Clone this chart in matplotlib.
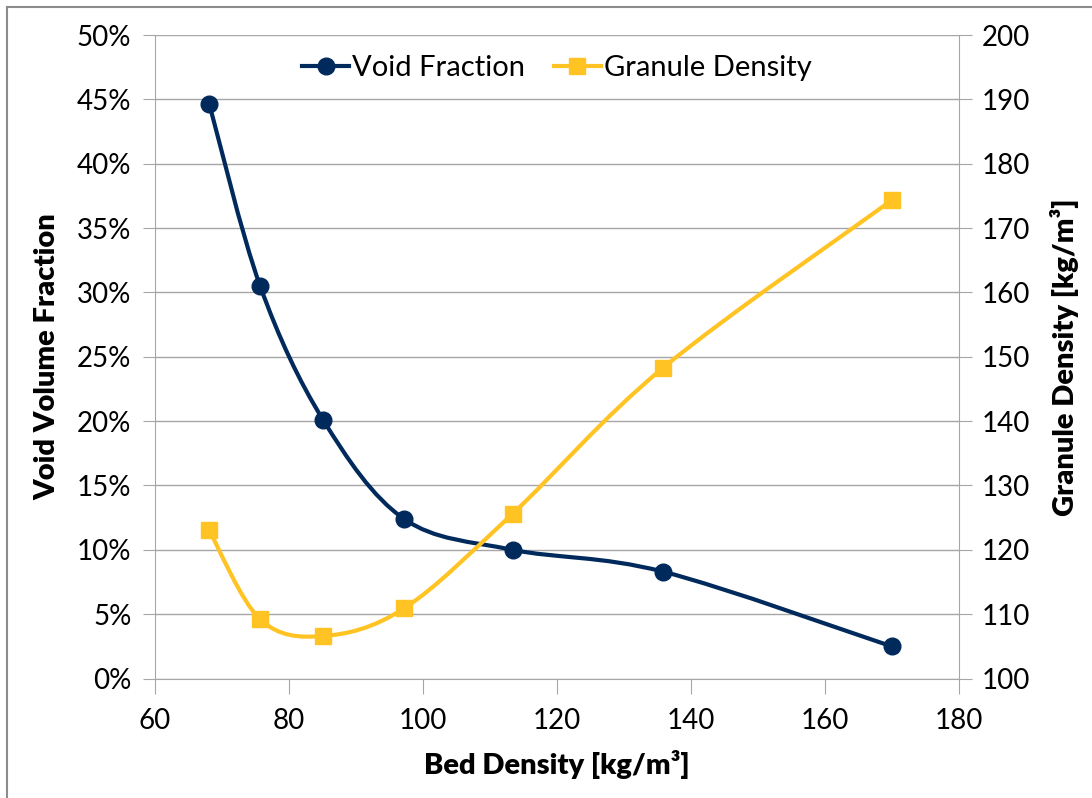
import numpy as np
import matplotlib
matplotlib.use('Agg')
import matplotlib.pyplot as plt
from matplotlib.path import Path
from matplotlib.patches import PathPatch
from matplotlib.lines import Line2D
from matplotlib.ticker import FuncFormatter

# data
bed_density = [68.1, 75.7, 85.1, 97.2, 113.4, 135.9, 170.0]
void_fraction = [44.65, 30.5, 20.1, 12.4, 10.0, 8.3, 2.5]        # percent
granule_density = [123.0, 109.2, 106.6, 110.9, 125.6, 148.3, 174.3]

navy = '#012a5c'
gold = '#ffc423'

plt.rcParams['font.family'] = ['Lato', 'DejaVu Sans']


def smooth_path(xs, ys):
    # excel-style smoothed line: catmull-rom segments as cubic beziers
    pts = np.column_stack([xs, ys])
    n = len(pts)
    verts = [pts[0]]
    codes = [Path.MOVETO]
    for i in range(n - 1):
        p0 = pts[max(i - 1, 0)]
        p1 = pts[i]
        p2 = pts[i + 1]
        p3 = pts[min(i + 2, n - 1)]
        c1 = p1 + (p2 - p0) / 6.0
        c2 = p2 - (p3 - p1) / 6.0
        verts += [c1, c2, p2]
        codes += [Path.CURVE4] * 3
    return Path(verts, codes)


fig = plt.figure(figsize=(10.92, 7.98), dpi=100)
ax = fig.add_axes([155 / 1092, 1 - 678.5 / 798, (958.5 - 155) / 1092, (678.5 - 35) / 798])
ax2 = ax.twinx()

grid_c = '#a6a6a6'
for a in (ax, ax2):
    for s in a.spines.values():
        s.set_visible(False)
ax.spines['left'].set_visible(True)
ax.spines['left'].set_color(grid_c)
ax.spines['bottom'].set_visible(True)
ax.spines['bottom'].set_color(grid_c)
ax2.spines['right'].set_visible(True)
ax2.spines['right'].set_color(grid_c)

ax.set_xlim(60, 180)
ax.set_ylim(0, 50)
ax2.set_ylim(100, 200)
ax.set_xticks(np.arange(60, 181, 20))
ax.set_yticks(np.arange(0, 51, 5))
ax2.set_yticks(np.arange(100, 201, 10))
ax.yaxis.set_major_formatter(FuncFormatter(lambda v, p: '%d%%' % v))
ax.yaxis.grid(True, color=grid_c, lw=1)
ax.set_axisbelow(True)

ax.tick_params(axis='x', direction='out', length=11, color=grid_c, labelsize=20, pad=10)
ax.tick_params(axis='y', direction='out', length=9, color=grid_c, labelsize=20, pad=8)
ax2.tick_params(axis='y', direction='out', length=9, color=grid_c, labelsize=20, pad=8)

ax.add_patch(PathPatch(smooth_path(bed_density, void_fraction), fill=False,
                       edgecolor=navy, lw=3, zorder=3))
ax.plot(bed_density, void_fraction, ls='none', marker='o', ms=12, color=navy, zorder=4)
ax2.add_patch(PathPatch(smooth_path(bed_density, granule_density), fill=False,
                        edgecolor=gold, lw=3, zorder=3))
ax2.plot(bed_density, granule_density, ls='none', marker='s', ms=11, color=gold, zorder=4)

ax.set_xlabel('Bed Density [kg/m³]', fontsize=21, fontweight='heavy', labelpad=12)
ax.set_ylabel('Void Volume Fraction', fontsize=21, fontweight='heavy', labelpad=12)
ax2.set_ylabel('Granule Density [kg/m³]', fontsize=21, fontweight='heavy', labelpad=14)

handles = [Line2D([], [], color=navy, lw=3, marker='o', ms=12),
           Line2D([], [], color=gold, lw=3, marker='s', ms=11)]
ax.legend(handles, ['Void Fraction', 'Granule Density'], loc='upper center',
          bbox_to_anchor=(0.5, 1.01), ncol=2, frameon=False, fontsize=21,
          handlelength=1.6, handletextpad=0.1, columnspacing=1.0)

# outer chart border (left and top edges visible)
fig.add_artist(Line2D([7 / 1092, 7 / 1092], [0, 1 - 7 / 798], color='#8c8c8c', lw=1.5))
fig.add_artist(Line2D([7 / 1092, 1], [1 - 7 / 798, 1 - 7 / 798], color='#8c8c8c', lw=1.5))

fig.savefig('out.png', dpi=100)
